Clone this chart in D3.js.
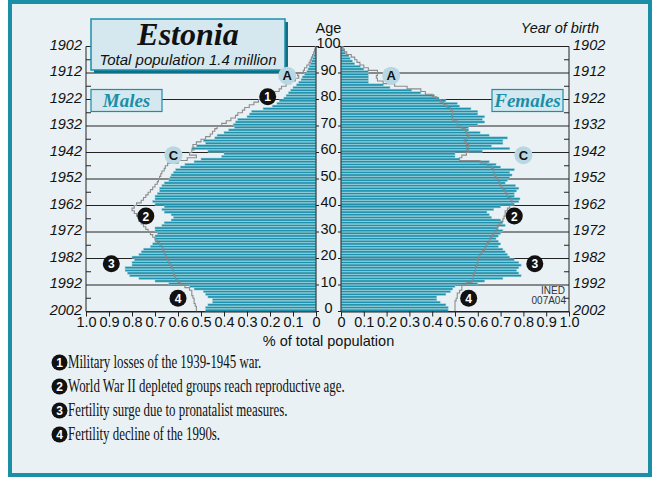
<!DOCTYPE html>
<html><head><meta charset="utf-8">
<script src="https://cdn.jsdelivr.net/npm/d3@7"></script>
<style>
html,body{margin:0;padding:0;background:#fff;}
svg{display:block;}
</style></head>
<body>
<svg id="c" width="652" height="477"></svg>
<script>
// ---- data: % of total population by single year of age (0..99) ----
const ages = d3.range(0, 100);
const males = [0.48,0.48,0.47,0.45,0.45,0.47,0.48,0.49,0.53,0.55,
 0.64,0.70,0.77,0.81,0.82,0.83,0.83,0.80,0.80,0.79,
 0.80,0.77,0.76,0.75,0.72,0.71,0.70,0.70,0.70,0.69,
 0.70,0.70,0.67,0.66,0.63,0.62,0.63,0.66,0.67,0.66,
 0.70,0.71,0.70,0.70,0.69,0.68,0.68,0.67,0.66,0.64,
 0.635,0.63,0.62,0.61,0.59,0.57,0.53,0.50,0.41,0.40,
 0.47,0.54,0.52,0.48,0.49,0.44,0.43,0.40,0.38,0.355,
 0.36,0.35,0.34,0.30,0.29,0.28,0.23,0.19,0.17,0.16,
 0.14,0.13,0.12,0.11,0.10,0.085,0.075,0.065,0.06,0.05,
 0.04,0.035,0.03,0.025,0.02,0.015,0.01,0.007,0.005,0.003];
const females = [0.47,0.47,0.46,0.435,0.42,0.42,0.46,0.48,0.49,0.50,
 0.60,0.63,0.71,0.79,0.78,0.77,0.78,0.79,0.78,0.76,
 0.74,0.73,0.72,0.71,0.69,0.70,0.69,0.68,0.69,0.70,
 0.71,0.69,0.72,0.71,0.70,0.66,0.65,0.64,0.67,0.70,
 0.76,0.78,0.785,0.76,0.76,0.77,0.78,0.765,0.72,0.73,
 0.74,0.75,0.74,0.76,0.70,0.68,0.65,0.52,0.50,0.50,
 0.62,0.74,0.66,0.71,0.71,0.73,0.65,0.61,0.56,0.56,
 0.60,0.63,0.62,0.63,0.60,0.60,0.57,0.52,0.51,0.46,
 0.43,0.41,0.35,0.31,0.215,0.186,0.12,0.12,0.12,0.12,
 0.12,0.10,0.085,0.06,0.05,0.04,0.035,0.02,0.015,0.01];
// grey outline (reference profile)
const malesRef = [0.52,0.52,0.525,0.53,0.53,0.535,0.54,0.54,0.55,0.57,
 0.59,0.60,0.61,0.615,0.62,0.62,0.625,0.63,0.64,0.645,
 0.65,0.655,0.66,0.665,0.67,0.68,0.69,0.70,0.71,0.72,
 0.73,0.74,0.75,0.76,0.77,0.77,0.78,0.79,0.80,0.79,
 0.78,0.76,0.75,0.74,0.73,0.72,0.71,0.70,0.69,0.685,
 0.68,0.675,0.67,0.66,0.655,0.645,0.60,0.56,0.52,0.55,
 0.54,0.53,0.535,0.52,0.50,0.48,0.46,0.45,0.44,0.43,
 0.41,0.39,0.37,0.35,0.34,0.32,0.31,0.29,0.27,0.25,
 0.23,0.20,0.18,0.16,0.15,0.13,0.11,0.09,0.075,0.08,
 0.055,0.05,0.04,0.03,0.025,0.02,0.015,0.01,0.006,0.003];
const femalesRef = [0.50,0.50,0.50,0.50,0.505,0.51,0.51,0.52,0.53,0.53,
 0.55,0.575,0.58,0.58,0.585,0.59,0.59,0.595,0.60,0.60,
 0.605,0.61,0.62,0.63,0.635,0.64,0.65,0.655,0.665,0.67,
 0.68,0.685,0.69,0.70,0.71,0.715,0.72,0.72,0.73,0.74,
 0.75,0.75,0.745,0.73,0.725,0.72,0.71,0.70,0.695,0.69,
 0.68,0.675,0.67,0.67,0.66,0.64,0.61,0.52,0.53,0.55,
 0.56,0.55,0.56,0.55,0.54,0.555,0.56,0.55,0.545,0.53,
 0.51,0.51,0.49,0.485,0.49,0.49,0.48,0.465,0.45,0.435,
 0.42,0.40,0.37,0.35,0.29,0.235,0.185,0.16,0.155,0.16,
 0.16,0.12,0.10,0.083,0.07,0.06,0.045,0.025,0.015,0.008];

const xTicks = [0,0.1,0.2,0.3,0.4,0.5,0.6,0.7,0.8,0.9,1.0];
const ageTicks = [0,10,20,30,40,50,60,70,80,90,100];
const birthYears = [2002,1992,1982,1972,1962,1952,1942,1932,1922,1912,1902];
const minorAges = [5,15,25,35,45,55,65,75,85,95];
const notes = ["Military losses of the 1939-1945 war.",
 "World War II depleted groups reach reproductive age.",
 "Fertility surge due to pronatalist measures.",
 "Fertility decline of the 1990s."];
// annotation markers: [label, side, age, value]
const markers = [
 ["A","m",89,0.125],["A","f",89,0.22],
 ["1","m",81,0.21],
 ["C","m",59,0.62],["C","f",59,0.80],
 ["2","m",36,0.74],["2","f",36,0.76],
 ["3","m",18,0.89],["3","f",18,0.85],
 ["4","m",5,0.60],["4","f",5,0.56]];

// ---- drawing ----
const teal = "#1b8ea8", barFill = "#1f91ac", barEdge = "#93cfdc", bg = "#e9f1f4";
const svg = d3.select("#c");
const sans = "'Liberation Sans Narrow','Arial Narrow','Liberation Sans',Arial,sans-serif";
const serif = "'Liberation Serif','Times New Roman',serif";

svg.append("rect").attr("x",10).attr("y",2).attr("width",640).attr("height",473)
  .attr("fill",bg).attr("stroke",teal).attr("stroke-width",4);

const xL = d3.scaleLinear().domain([0,1]).range([316,86]);
const xR = d3.scaleLinear().domain([0,1]).range([341,569]);
const y = d3.scaleLinear().domain([0,100]).range([311.5,46.5]);

// grid lines
const g = svg.append("g");
ageTicks.forEach(a=>{
  g.append("line").attr("x1",xL(1)).attr("x2",xL(0)).attr("y1",y(a)).attr("y2",y(a)).attr("stroke","#222").attr("stroke-width",1);
  g.append("line").attr("x1",xR(0)).attr("x2",xR(1)).attr("y1",y(a)).attr("y2",y(a)).attr("stroke","#222").attr("stroke-width",1);
});
minorAges.forEach(a=>{
  g.append("line").attr("x1",xL(1)).attr("x2",xL(1)+5).attr("y1",y(a)).attr("y2",y(a)).attr("stroke","#222");
  g.append("line").attr("x1",xR(1)-5).attr("x2",xR(1)).attr("y1",y(a)).attr("y2",y(a)).attr("stroke","#222");
});
g.append("line").attr("x1",xL(1)).attr("x2",xL(1)).attr("y1",y(100)).attr("y2",y(0)).attr("stroke","#222");
g.append("line").attr("x1",xR(1)).attr("x2",xR(1)).attr("y1",y(100)).attr("y2",y(0)).attr("stroke","#222");

// bars
const bh = y(0)-y(1);
svg.append("g").selectAll("rect").data(ages).join("rect")
  .attr("x",a=>xL(males[a])).attr("y",a=>y(a+1)+0.25)
  .attr("width",a=>xL(0)-xL(males[a])).attr("height",bh-0.5)
  .attr("fill",barFill).attr("stroke",barEdge).attr("stroke-width",0.5);
svg.append("g").selectAll("rect").data(ages).join("rect")
  .attr("x",xR(0)).attr("y",a=>y(a+1)+0.25)
  .attr("width",a=>xR(females[a])-xR(0)).attr("height",bh-0.5)
  .attr("fill",barFill).attr("stroke",barEdge).attr("stroke-width",0.5);

// grey reference outline (step)
function stepPts(arr){ const p=[]; ages.forEach(a=>{p.push([arr[a],a]);p.push([arr[a],a+1]);}); p.push([0,100]); return p; }
svg.append("path").attr("d", d3.line().x(d=>xL(d[0])).y(d=>y(d[1]))(stepPts(malesRef)))
  .attr("fill","none").attr("stroke","#8c8c8c").attr("stroke-width",1.1);
svg.append("path").attr("d", d3.line().x(d=>xR(d[0])).y(d=>y(d[1]))(stepPts(femalesRef)))
  .attr("fill","none").attr("stroke","#8c8c8c").attr("stroke-width",1.1);

// inner verticals and axes
svg.append("line").attr("x1",xL(0)).attr("x2",xL(0)).attr("y1",y(100)).attr("y2",y(0)).attr("stroke","#222");
svg.append("line").attr("x1",xR(0)).attr("x2",xR(0)).attr("y1",y(100)).attr("y2",y(0)).attr("stroke","#222");
ageTicks.forEach(a=>{
  svg.append("line").attr("x1",xL(0)).attr("x2",xL(0)+3).attr("y1",y(a)).attr("y2",y(a)).attr("stroke","#222");
  svg.append("line").attr("x1",xR(0)-3).attr("x2",xR(0)).attr("y1",y(a)).attr("y2",y(a)).attr("stroke","#222");
});

const fmt = v => v===0 ? "0" : d3.format(".1f")(v);
const axL = svg.append("g").attr("transform",`translate(0,${y(0)})`)
  .call(d3.axisBottom(xL).tickValues(xTicks).tickFormat(fmt).tickSize(5).tickSizeOuter(0));
const axR = svg.append("g").attr("transform",`translate(0,${y(0)})`)
  .call(d3.axisBottom(xR).tickValues(xTicks).tickFormat(fmt).tickSize(5).tickSizeOuter(0));
[axL,axR].forEach(ax=>{
  ax.select(".domain").attr("stroke","#222");
  ax.selectAll(".tick line").attr("stroke","#222");
  ax.selectAll("text").attr("font-family",sans).attr("font-size",14.5).attr("fill","#111").attr("dy","0.75em").attr("y",5);
});

// age labels in centre
svg.append("g").selectAll("text").data(ageTicks).join("text")
  .attr("x",328.5).attr("y",a=>y(a)+1.5).attr("text-anchor","middle")
  .attr("font-family",sans).attr("font-size",14.5).attr("fill","#111").text(a=>a);
svg.append("text").attr("x",328.5).attr("y",33).attr("text-anchor","middle")
  .attr("font-family",sans).attr("font-size",14.5).attr("fill","#111").text("Age");

// year of birth labels
svg.append("g").selectAll("text").data(ageTicks).join("text")
  .attr("x",82).attr("y",a=>y(a)+3).attr("text-anchor","end")
  .attr("font-family",sans).attr("font-style","italic").attr("font-size",14.5).attr("fill","#111")
  .text((a,i)=>birthYears[i]);
svg.append("g").selectAll("text").data(ageTicks).join("text")
  .attr("x",573).attr("y",a=>y(a)+3).attr("text-anchor","start")
  .attr("font-family",sans).attr("font-style","italic").attr("font-size",14.5).attr("fill","#111")
  .text((a,i)=>birthYears[i]);
svg.append("text").attr("x",599).attr("y",33).attr("text-anchor","end")
  .attr("font-family",sans).attr("font-style","italic").attr("font-size",14.5).attr("fill","#111").text("Year of birth");

svg.append("text").attr("x",328.5).attr("y",346).attr("text-anchor","middle")
  .attr("font-family",sans).attr("font-size",14.5).attr("fill","#111").text("% of total population");

// title box
svg.append("rect").attr("x",94).attr("y",22).attr("width",194).attr("height",51).attr("fill","#0f6f86");
svg.append("rect").attr("x",91).attr("y",19).attr("width",194).attr("height",51).attr("fill","#d5e8ef").attr("stroke",teal).attr("stroke-width",1.5);
svg.append("text").attr("x",188).attr("y",45).attr("text-anchor","middle")
  .attr("font-family",serif).attr("font-weight","bold").attr("font-style","italic").attr("font-size",32).attr("fill","#111").text("Estonia");
svg.append("text").attr("x",188).attr("y",65).attr("text-anchor","middle")
  .attr("font-family",sans).attr("font-style","italic").attr("font-size",15).attr("fill","#111").text("Total population 1.4 million");

// sex boxes
[["Males",91],["Females",492]].forEach(([t,x0])=>{
  svg.append("rect").attr("x",x0).attr("y",89.5).attr("width",71).attr("height",22).attr("fill","#d5e8ef").attr("stroke",teal).attr("stroke-width",1.2);
  svg.append("text").attr("x",x0+35.5).attr("y",107).attr("text-anchor","middle")
    .attr("font-family",serif).attr("font-weight","bold").attr("font-style","italic").attr("font-size",19).attr("fill",teal).text(t);
});

// markers
markers.forEach(([lab,side,age,v])=>{
  const cx = side==="m" ? xL(v) : xR(v);
  const cy = y(age);
  const light = /[A-Z]/.test(lab);
  svg.append("circle").attr("cx",cx).attr("cy",cy).attr("r",light?9:8.5)
    .attr("fill",light?"#b7d8e3":"#111");
  svg.append("text").attr("x",cx).attr("y",cy+4.5).attr("text-anchor","middle")
    .attr("font-family","'Liberation Sans',Arial,sans-serif").attr("font-weight","bold").attr("font-size",light?13:12)
    .attr("fill",light?"#111":"#fff").text(lab);
});

// INED
svg.append("text").attr("x",565).attr("y",294).attr("text-anchor","end").attr("font-family",sans).attr("font-size",10).attr("fill","#333").text("INED");
svg.append("text").attr("x",566).attr("y",304).attr("text-anchor","end").attr("font-family",sans).attr("font-size",10).attr("fill","#333").text("007A04");

// notes
const noteTexts = notes.map((t,i)=>{
  const cy = 362.5 + i*24;
  svg.append("circle").attr("cx",59.5).attr("cy",cy).attr("r",8).attr("fill","#111");
  svg.append("text").attr("x",59.5).attr("y",cy+4.5).attr("text-anchor","middle")
    .attr("font-family","'Liberation Sans',Arial,sans-serif").attr("font-weight","bold").attr("font-size",12).attr("fill","#fff").text(i+1);
  return svg.append("text").attr("transform",`translate(68,${cy+5.5})`)
    .attr("font-family",serif).attr("font-size",18).attr("fill","#111").text(t);
});
// condense the note font so the longest note spans to x≈345
const w = noteTexts[1].node().getComputedTextLength();
const k = 277 / w;
noteTexts.forEach((t,i)=>t.attr("transform",`translate(68,${362.5+i*24+5.5}) scale(${k},1)`));
</script>
</body></html>
